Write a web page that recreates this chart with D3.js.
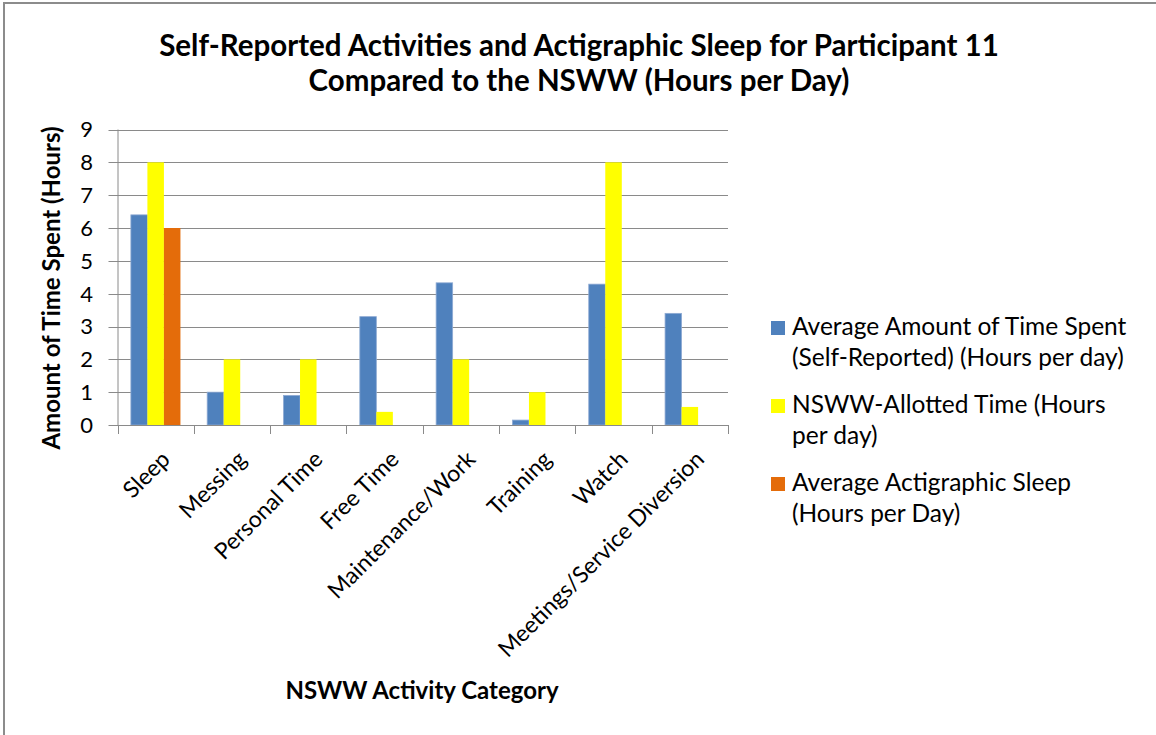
<!DOCTYPE html>
<html>
<head>
<meta charset="utf-8">
<script src="https://cdn.jsdelivr.net/npm/d3@7"></script>
<style>
  html, body { margin: 0; padding: 0; background: #fff; }
  svg { display: block; }
  text { font-family: Lato, "Liberation Sans", sans-serif; fill: #000; }
</style>
</head>
<body>
<svg id="chart" width="1156" height="735"></svg>
<script>
// ---- data ----
const categories = ["Sleep", "Messing", "Personal Time", "Free Time", "Maintenance/Work", "Training", "Watch", "Meetings/Service Diversion"];
const seriesNames = [
  ["Average Amount of Time Spent", "(Self-Reported) (Hours per day)"],
  ["NSWW-Allotted Time (Hours", "per day)"],
  ["Average Actigraphic Sleep", "(Hours per Day)"]
];
const selfReported = [6.4, 1.0, 0.9, 3.3, 4.33, 0.15, 4.29, 3.4];
const nswwAllotted = [8, 2, 2, 0.4, 2, 1, 8, 0.55];
const actigraphic = [6.0, null, null, null, null, null, null, null];
const yTicks = [0, 1, 2, 3, 4, 5, 6, 7, 8, 9];
const titleLines = ["Self-Reported Activities and Actigraphic Sleep for Participant 11", "Compared to the NSWW (Hours per Day)"];
const yAxisTitle = "Amount of Time Spent (Hours)";
const xAxisTitle = "NSWW Activity Category";
const colors = ["#4F81BD", "#FFFF00", "#E46C0A"];

const seriesValues = [selfReported, nswwAllotted, actigraphic];

const svg = d3.select("#chart");

// frame
svg.append("rect").attr("x", 4).attr("y", 3).attr("width", 1170).attr("height", 760)
  .attr("fill", "none").attr("stroke", "#8c8c8c").attr("stroke-width", 2);

const plot = { left: 117.5, right: 728, top: 129.5, bottom: 425 };

const x = d3.scaleBand().domain(categories).range([plot.left, plot.right]).paddingInner(0).paddingOuter(0);
const xs = d3.scaleBand().domain(d3.range(3)).range([0, x.bandwidth()]).paddingInner(0).paddingOuter(0.81);
const y = d3.scaleLinear().domain([0, 9]).range([plot.bottom, plot.top]);

// gridlines
svg.append("g").selectAll("line").data(yTicks).join("line")
  .attr("x1", plot.left - 9).attr("x2", plot.right)
  .attr("y1", d => Math.round(y(d)) + 0.5).attr("y2", d => Math.round(y(d)) + 0.5)
  .attr("stroke", "#8a8a8a").attr("stroke-width", 1);

// bars
const series = seriesValues.map((vals, si) => ({ si, vals }));
svg.append("g").selectAll("g").data(series).join("g")
  .attr("fill", d => colors[d.si])
  .selectAll("rect").data(d => d.vals.map((v, i) => ({ v, c: categories[i], si: d.si })).filter(e => e.v != null))
  .join("rect")
  .attr("x", d => x(d.c) + xs(d.si))
  .attr("width", xs.bandwidth())
  .attr("y", d => y(d.v))
  .attr("height", d => y(0) - y(d.v))
  .attr("stroke", d => d.si === 0 ? "#8eaad3" : "none")
  .attr("stroke-width", d => d.si === 0 ? 0.8 : 0);

// y axis line
svg.append("line").attr("x1", plot.left + 0.5).attr("x2", plot.left + 0.5)
  .attr("y1", plot.top).attr("y2", plot.bottom).attr("stroke", "#8a8a8a");

// x axis line and ticks
svg.append("line").attr("x1", plot.left).attr("x2", plot.right)
  .attr("y1", Math.round(y(0)) + 0.5).attr("y2", Math.round(y(0)) + 0.5).attr("stroke", "#8a8a8a");
const tickXs = categories.map(c => x(c)).concat([plot.right]);
svg.append("g").selectAll("line").data(tickXs).join("line")
  .attr("x1", d => Math.round(d) + 0.5).attr("x2", d => Math.round(d) + 0.5)
  .attr("y1", y(0)).attr("y2", y(0) + 9).attr("stroke", "#8a8a8a");

// y tick labels
svg.append("g").selectAll("text").data(yTicks).join("text")
  .attr("x", 93).attr("y", d => y(d)).attr("dy", "0.36em")
  .attr("text-anchor", "end").attr("font-size", 22).text(d => d);

// x tick labels
svg.append("g").selectAll("text").data(categories).join("text")
  .attr("transform", d => `translate(${x(d) + x.bandwidth() / 2 + 6},${451}) rotate(-45)`)
  .attr("text-anchor", "end").attr("dy", "0.6em").attr("font-size", 23).text(d => d);

// title
svg.append("g").selectAll("text").data(titleLines).join("text")
  .attr("x", 579).attr("y", (d, i) => 56 + i * 35)
  .attr("text-anchor", "middle").attr("font-size", 29.5).attr("font-weight", "bold").text(d => d);

// axis titles
svg.append("text").attr("transform", "translate(60,288) rotate(-90)")
  .attr("text-anchor", "middle").attr("font-size", 24).attr("font-weight", "bold").text(yAxisTitle);
svg.append("text").attr("x", 422).attr("y", 699)
  .attr("text-anchor", "middle").attr("font-size", 24).attr("font-weight", "bold").text(xAxisTitle);

// legend
const legend = svg.append("g").selectAll("g").data(seriesNames).join("g")
  .attr("transform", (d, i) => `translate(771,${321 + i * 78})`);
legend.append("rect").attr("width", 14).attr("height", 14).attr("fill", (d, i) => colors[i]);
legend.append("text").attr("x", 21).attr("font-size", 24.5)
  .selectAll("tspan").data(d => d).join("tspan")
  .attr("x", 21).attr("y", (d, i) => 14 + i * 31).text(d => d);
</script>
</body>
</html>
